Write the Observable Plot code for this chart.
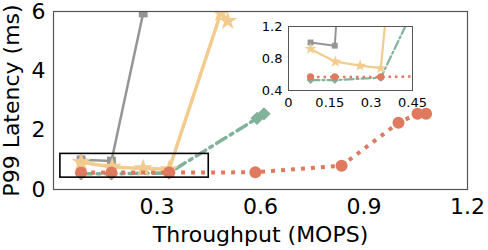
<!DOCTYPE html>
<html><head><meta charset="utf-8">
<script src="https://cdn.jsdelivr.net/npm/d3@7"></script>
<script src="https://cdn.jsdelivr.net/npm/@observablehq/plot@0.6"></script>
<style>
body{margin:0;background:#fff;}
#wrap{position:relative;width:488px;height:250px;overflow:hidden;}
#wrap svg{position:absolute;}
</style></head><body><div id="wrap"></div>
<script>
// Data
const grayX = [0.08, 0.168, 0.26];
const grayY = [1.0, 0.96, 5.95];
const starX = [0.08, 0.17, 0.26, 0.335, 0.485, 0.505];
const starY = [0.92, 0.76, 0.71, 0.68, 5.95, 5.68];
const diamX = [0.08, 0.168, 0.335, 0.59, 0.61];
const diamY = [0.53, 0.53, 0.56, 2.4, 2.55];
const circX = [0.08, 0.168, 0.335, 0.585, 0.835, 1.0, 1.055, 1.08];
const circY = [0.57, 0.57, 0.57, 0.58, 0.8, 2.25, 2.55, 2.55];
const xTicks = [0.3, 0.6, 0.9, 1.2];
const yTicks = [0, 2, 4, 6];
const insetXTicks = [0, 0.15, 0.3, 0.45];
const insetYTicks = [0.4, 0.8, 1.2];
const zoomX = [0.02, 0.45];
const zoomY = [0.4, 1.2];

const GRAY = "#959595", YEL = "#F2CC8F", GRN = "#81B29A", RED = "#E07A5F";
const pts = (xs, ys) => xs.map((x, i) => ({x, y: ys[i]}));
const gray = pts(grayX, grayY), star = pts(starX, starY), diam = pts(diamX, diamY), circ = pts(circX, circY);
const FONT = "DejaVu Sans";

function seriesMarks(s) {
  return [
    Plot.line(gray, {x: "x", y: "y", stroke: GRAY, strokeWidth: s.lw, clip: true}),
    Plot.dot(gray, {x: "x", y: "y", symbol: "square", fill: GRAY, stroke: "none", r: s.sq, clip: true}),
    Plot.line(diam, {x: "x", y: "y", stroke: GRN, strokeWidth: s.lw2, strokeDasharray: s.dashdot, clip: true}),
    Plot.dot(diam, {x: "x", y: "y", symbol: "diamond2", fill: GRN, stroke: "none", r: s.di, clip: true}),
    Plot.line(star, {x: "x", y: "y", stroke: YEL, strokeWidth: s.lw2, clip: true}),
    Plot.dot(star, {x: "x", y: "y", symbol: "star", fill: YEL, stroke: "none", r: s.st, clip: true}),
    Plot.line(circ, {x: "x", y: "y", stroke: RED, strokeWidth: s.lw3, strokeDasharray: s.dot, strokeLinecap: "butt", clip: true}),
    Plot.dot(circ, {x: "x", y: "y", symbol: "circle", fill: RED, stroke: "none", r: s.ci, clip: true})
  ];
}

const main = Plot.plot({
  width: 488, height: 250,
  marginLeft: 53, marginRight: 21, marginTop: 11, marginBottom: 61,
  style: {fontFamily: FONT, fontSize: "22px", color: "#000", background: "transparent", overflow: "visible"},
  x: {domain: [0, 1.2]},
  y: {domain: [0, 6]},
  marks: [
    ...seriesMarks({lw: 2.5, lw2: 3.5, lw3: 4, sq: 5, di: 6, st: 6, ci: 6, dashdot: "11,5,3,5", dot: "4,6"}),
    Plot.rect([{x1: zoomX[0], x2: zoomX[1], y1: zoomY[0], y2: zoomY[1]}], {x1: "x1", x2: "x2", y1: "y1", y2: "y2", stroke: "#000", fill: "none", strokeWidth: 1.6}),
    Plot.frame({stroke: "#555", strokeWidth: 1.2}),
    Plot.axisX({ticks: xTicks, tickSize: 0, tickPadding: 9, tickFormat: d => String(d), label: "Throughput (MOPS)", labelAnchor: "center", labelArrow: "none", labelOffset: 52}),
    Plot.axisY({ticks: yTicks, tickSize: 0, tickPadding: 8, tickFormat: d => String(d), label: "P99 Latency (ms)", labelAnchor: "center", labelArrow: "none", labelOffset: 50})
  ]
});
main.style.left = "0px"; main.style.top = "0px";

const inset = Plot.plot({
  width: 159, height: 91,
  marginLeft: 30, marginRight: 5, marginTop: 5, marginBottom: 22,
  style: {fontFamily: FONT, fontSize: "13px", color: "#000", background: "transparent", overflow: "visible"},
  x: {domain: [0, 0.45]},
  y: {domain: [0.4, 1.2]},
  marks: [
    Plot.frame({fill: "#fff", stroke: "none"}),
    ...seriesMarks({lw: 2, lw2: 2.2, lw3: 2.5, sq: 3.3, di: 3.6, st: 3.8, ci: 3.6, dashdot: "9,3,2,3", dot: "2.5,4"}),
    Plot.frame({stroke: "#555", strokeWidth: 1}),
    Plot.axisX({ticks: insetXTicks, tickSize: 0, tickPadding: 7, tickFormat: d => String(d), label: null}),
    Plot.axisY({ticks: insetYTicks, tickSize: 0, tickPadding: 6, tickFormat: d => d.toFixed(1), label: null})
  ]
});
inset.style.left = "258px"; inset.style.top = "21px";

const wrap = document.getElementById("wrap");
wrap.appendChild(main);
wrap.appendChild(inset);
</script>
</body></html>
